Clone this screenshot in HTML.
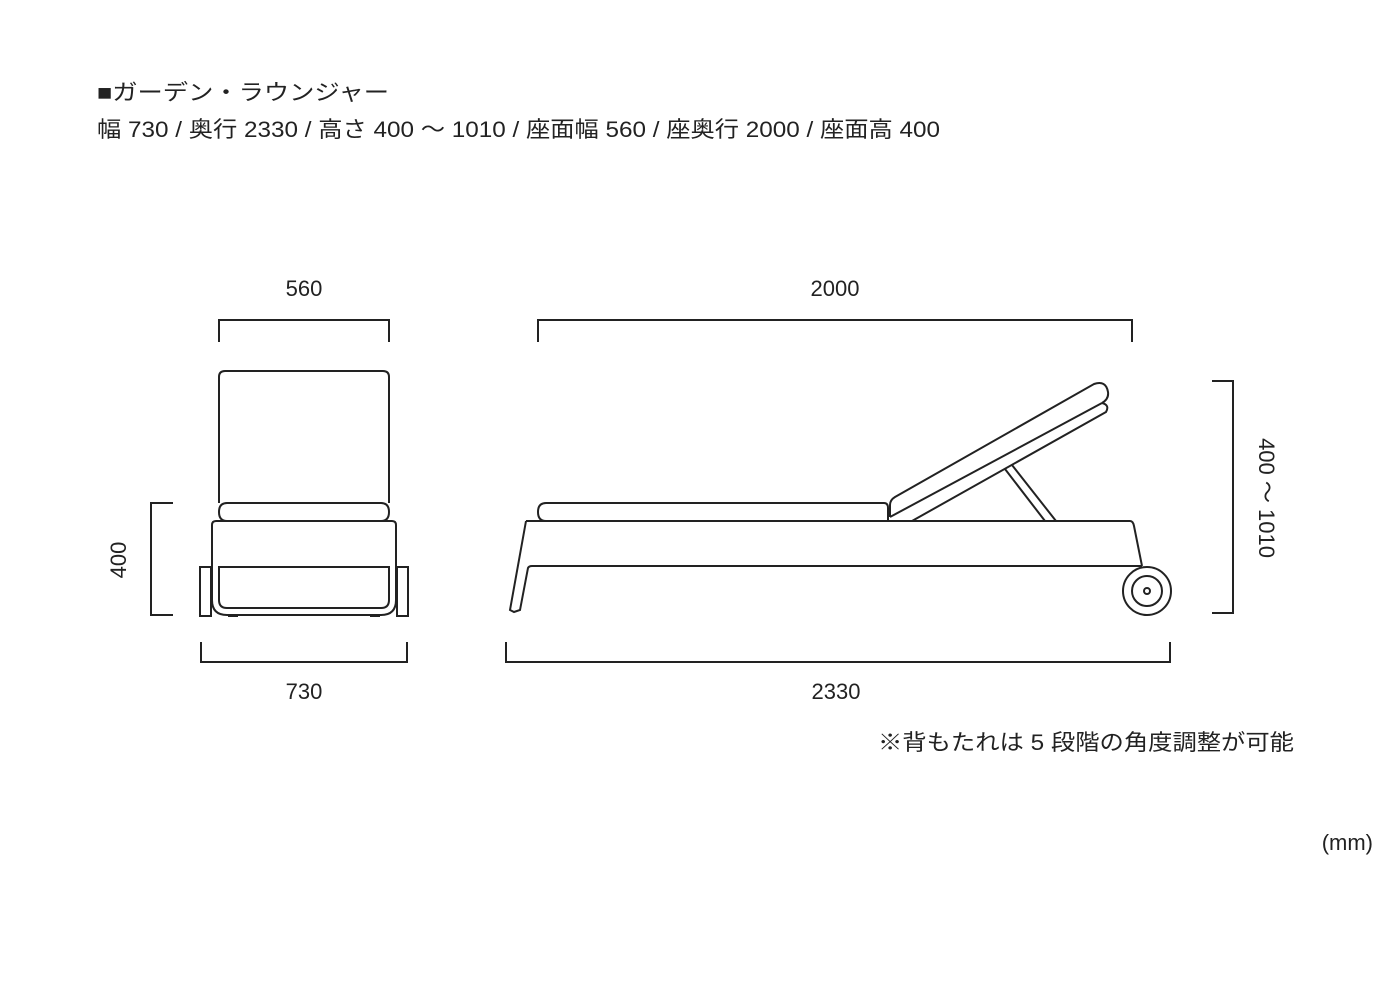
<!DOCTYPE html>
<html><head><meta charset="utf-8"><style>
html,body{margin:0;padding:0;background:#fff;}
svg{display:block;}
text{font-family:"Liberation Sans","Noto Sans CJK JP",sans-serif;fill:#222;}
</style></head><body>
<svg width="1400" height="1000" viewBox="0 0 1400 1000" xmlns="http://www.w3.org/2000/svg">
<text x="97" y="100" font-size="22" textLength="292" lengthAdjust="spacingAndGlyphs">■ガーデン・ラウンジャー</text>
<text x="97" y="137" font-size="22" textLength="843" lengthAdjust="spacingAndGlyphs">幅 730 / 奥行 2330 / 高さ 400 〜 1010 / 座面幅 560 / 座奥行 2000 / 座面高 400</text>

<g fill="none" stroke="#222" stroke-width="2">
<!-- dimension brackets -->
<polyline points="219,342 219,320 389,320 389,342"/>
<polyline points="538,342 538,320 1132,320 1132,342"/>
<polyline points="201,642 201,662 407,662 407,642"/>
<polyline points="506,642 506,662 1170,662 1170,642"/>
<polyline points="173,503 151,503 151,615 173,615"/>
<polyline points="1212,381 1233,381 1233,613 1212,613"/>

<!-- front view -->
<path d="M219,503 V377 Q219,371 225,371 H383 Q389,371 389,377 V503"/>
<path d="M227,503 H381 Q389,503 389,512 Q389,521 381,521 H227 Q219,521 219,512 Q219,503 227,503 Z"/>
<path d="M216,521 H392 Q396,521 396,525 V600 Q396,615 381,615 H227 Q212,615 212,600 V525 Q212,521 216,521 Z"/>
<path d="M219,567 H389 V600 Q389,608 381,608 H227 Q219,608 219,600 Z"/>
<rect x="200" y="567" width="11" height="49"/>
<rect x="397" y="567" width="11" height="49"/>
<line x1="228" y1="616" x2="238" y2="616"/>
<line x1="370" y1="616" x2="380" y2="616"/>

<!-- side view -->
<path d="M546,503 H884 Q888,503 888,508 V521"/>
<path d="M546,503 Q538,503 538,512 Q538,521 546,521"/>
<line x1="526" y1="521" x2="1130" y2="521"/>
<path d="M1130,521 Q1133,521 1134,526 L1142,566"/>
<path d="M526,521 L510,610 L514,612 L520,610 L528,568 Q529,566 532,566 H1142"/>
<!-- backrest -->
<path d="M890,517 L890,505 Q890,500 895,497 L1094,384 Q1106,380 1108,392 Q1109,399 1102,403"/>
<path d="M890,517 L1102,403"/>
<path d="M1102,403 Q1110,405 1106,412 L912,521"/>
<path d="M1005,469 L1045,521 M1012,465 L1056,521"/>
<!-- wheel -->
<circle cx="1147" cy="591" r="24"/>
<circle cx="1147" cy="591" r="15"/>
<circle cx="1147" cy="591" r="3"/>
</g>

<text x="304" y="296" font-size="22" text-anchor="middle">560</text>
<text x="835" y="296" font-size="22" text-anchor="middle">2000</text>
<text x="304" y="699" font-size="22" text-anchor="middle">730</text>
<text x="836" y="699" font-size="22" text-anchor="middle">2330</text>
<text transform="translate(126,560) rotate(-90)" font-size="22" text-anchor="middle">400</text>
<text transform="translate(1259,498) rotate(90)" font-size="22" text-anchor="middle">400 〜 1010</text>
<text x="878" y="750" font-size="22" textLength="416" lengthAdjust="spacingAndGlyphs">※背もたれは 5 段階の角度調整が可能</text>
<text x="1373" y="850" font-size="22" text-anchor="end">(mm)</text>
</svg>
</body></html>
